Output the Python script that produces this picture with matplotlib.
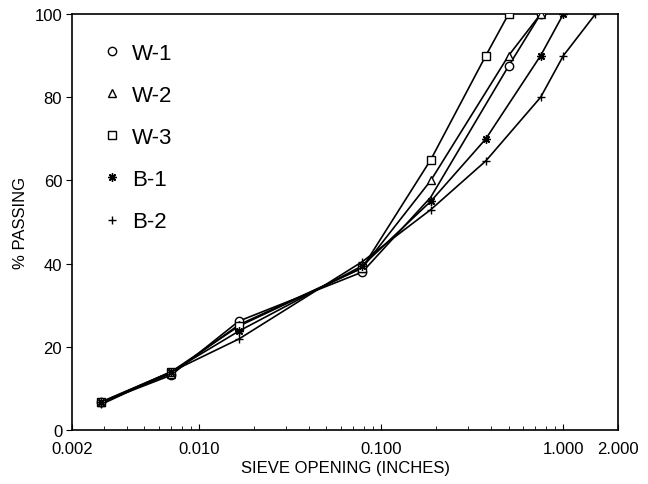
import matplotlib.pyplot as plt
from matplotlib.lines import Line2D

plt.rcParams['font.family'] = ['Liberation Sans', 'DejaVu Sans']

# sieve openings (inches)
sieve = [0.0029, 0.0070, 0.0165, 0.0787, 0.187, 0.375, 0.5, 0.75, 1.0, 1.5]

# percent passing per sample (None = no reading)
w1 = [6.7, 13.2, 26.2, 38.0, 56.0, None, 87.5, 100, None, None]
w2 = [6.7, 13.6, 25.3, 39.0, 60.0, None, 90.0, 100, None, None]
w3 = [6.8, 14.0, 25.0, 39.0, 65.0, 90.0, 100, None, None, None]
b1 = [6.7, 14.0, 23.8, 39.5, 55.0, 70.0, None, 90.0, 100, None]
b2 = [6.2, 14.0, 21.9, 40.5, 53.0, 64.7, None, 80.0, 90.0, 100]

series = [("W-1", w1, "o"), ("W-2", w2, "^"), ("W-3", w3, "s"),
          ("B-1", b1, (8, 2, 0)), ("B-2", b2, "+")]

fig = plt.figure(figsize=(6.48, 4.85), dpi=100)
ax = fig.add_axes([0.111, 0.111, 0.843, 0.858])

handles = []
for name, vals, m in series:
    xs = [s for s, v in zip(sieve, vals) if v is not None]
    ys = [v for v in vals if v is not None]
    ax.plot(xs, ys, color="black", lw=1.2, zorder=2)
    # W-1 marker at the #4 sieve sits under the B-1 mark in the original
    show = [i for i in range(len(xs)) if not (name == "W-1" and xs[i] == 0.187)]
    ax.plot(xs, ys, ls="none", marker=m, ms=6, mfc="white", mec="black",
            mew=1.0, zorder=3, markevery=show)
    handles.append(Line2D([], [], ls="none", marker=m, ms=6, mfc="white",
                          mec="black", mew=1.0, label=name))

ax.set_xscale("log")
ax.set_xlim(0.002, 2.0)
ax.set_ylim(0, 100)
ax.set_xticks([0.002, 0.01, 0.1, 1.0, 2.0])
ax.set_xticklabels(["0.002", "0.010", "0.100", "1.000", "2.000"])
ax.set_yticks([0, 20, 40, 60, 80, 100])
ax.tick_params(axis="both", labelsize=12, length=4)
ax.tick_params(axis="x", which="minor", direction="in", length=3)
ax.tick_params(axis="x", which="major", direction="in", length=4, pad=8)
ax.tick_params(axis="y", pad=3)
for sp in ax.spines.values():
    sp.set_linewidth(1.2)

ax.set_xlabel("SIEVE OPENING (INCHES)", fontsize=12, labelpad=3)
ax.set_ylabel("% PASSING", fontsize=12, labelpad=5)

ax.legend(handles=handles, loc="upper left", frameon=False, fontsize=16,
          labelspacing=0.95, handletextpad=0.4, borderaxespad=0.9,
          handlelength=1.0)

fig.savefig("out.png", dpi=100)
